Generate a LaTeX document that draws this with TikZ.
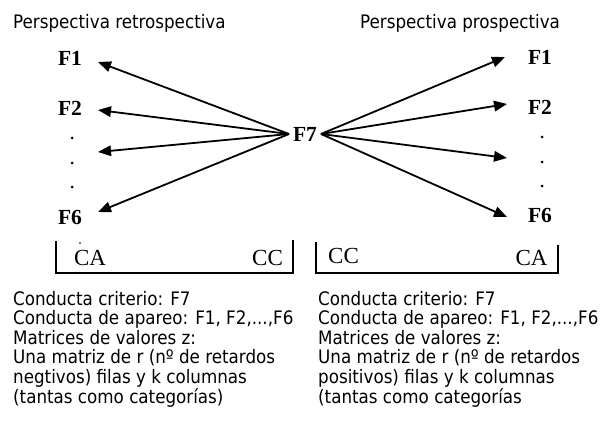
\documentclass[tikz,border=0pt]{standalone}
\usepackage{fontspec}
\setmainfont{DejaVu Sans Condensed}
\newfontfamily\tnr{Liberation Serif}
\usetikzlibrary{arrows.meta}
\tikzset{
  flab/.style={inner sep=0pt, font=\tnr\bfseries\fontsize{21.5}{24}\selectfont},
  clab/.style={inner sep=0pt, font=\tnr\fontsize{23}{26}\selectfont},
  txt/.style={inner sep=0pt, anchor=base west, font=\fontsize{18.6}{19.6}\selectfont},
  vdot/.style={circle, fill=black, inner sep=0pt, minimum size=3pt},
  arr/.style={line width=1.8pt, -{Triangle[length=13pt,width=10.5pt]}},
  brk/.style={line width=1.8pt}
}
\begin{document}
\begin{tikzpicture}[x=1pt,y=-1pt]
\useasboundingbox (0,0) rectangle (607,422);
% titles
\node[txt] (t1) at (13,29) {Perspectiva retrospectiva};
\node[txt] (t2) at (360,28.5) {Perspectiva prospectiva};
% left labels
\node[flab] (lF1) at (70,58) {F1};
\node[flab] (lF2) at (70,108) {F2};
\node[vdot] (ld1) at (72,138) {};
\node[vdot] (ld2) at (72,163) {};
\node[vdot] (ld3) at (72,187) {};
\node[flab] (lF6) at (70,217) {F6};
% center
\node[flab] (F7) at (305,134) {F7};
% right labels
\node[flab] (rF1) at (540,57) {F1};
\node[flab] (rF2) at (540,107) {F2};
\node[vdot] (rd1) at (542,137) {};
\node[vdot] (rd2) at (542,162) {};
\node[vdot] (rd3) at (542,186) {};
\node[flab] (rF6) at (540,215) {F6};
% arrow ends
\coordinate (ls) at (289,134);
\coordinate (rs) at (321,134);
\coordinate (la1) at (98,62);
\coordinate (la2) at (98,110);
\coordinate (la3) at (98,152);
\coordinate (la4) at (98,212);
\coordinate (ra1) at (505,57);
\coordinate (ra2) at (507,104);
\coordinate (ra3) at (507,158);
\coordinate (ra4) at (507,217);
\foreach \i in {1,2,3,4}{
  \draw[arr] (ls) -- (la\i);
  \draw[arr] (rs) -- (ra\i);
}
% brackets
\coordinate (b1a) at (56,241);
\coordinate (b1b) at (56,273);
\coordinate (b1c) at (293,273);
\coordinate (b1d) at (293,240);
\draw[brk] (b1a) -- (b1b) -- (b1c) -- (b1d);
\coordinate (b2a) at (316,242);
\coordinate (b2b) at (316,273);
\coordinate (b2c) at (558,273);
\coordinate (b2d) at (558,245);
\draw[brk] (b2a) -- (b2b) -- (b2c) -- (b2d);
\node[clab] (lCA) at (90,258) {CA};
\node[circle, fill=black, inner sep=0pt, minimum size=1.8pt] (cdot) at (80,243) {};
\node[clab] (lCC) at (267.5,258) {CC};
\node[clab] (rCC) at (343.5,256) {CC};
\node[clab] (rCA) at (531.5,257.5) {CA};
% text blocks
\node[txt] (a1) at (13,305) {Conducta criterio: F7};
\node[txt] (a2) at (13,324.6) {Conducta de apareo: F1, F2,...,F6};
\node[txt] (a3) at (13,344.2) {Matrices de valores z:};
\node[txt] (a4) at (13,363.8) {Una matriz de r (nº de retardos};
\node[txt] (a5) at (13,383.4) {negtivos) filas y k columnas};
\node[txt] (a6) at (13,403) {(tantas como categorías)};
\node[txt] (b1) at (318,305) {Conducta criterio: F7};
\node[txt] (b2) at (318,324.6) {Conducta de apareo: F1, F2,...,F6};
\node[txt] (b3) at (318,344.2) {Matrices de valores z:};
\node[txt] (b4) at (318,363.8) {Una matriz de r (nº de retardos};
\node[txt] (b5) at (318,383.4) {positivos) filas y k columnas};
\node[txt] (b6) at (318,403) {(tantas como categorías};
\end{tikzpicture}
\end{document}
